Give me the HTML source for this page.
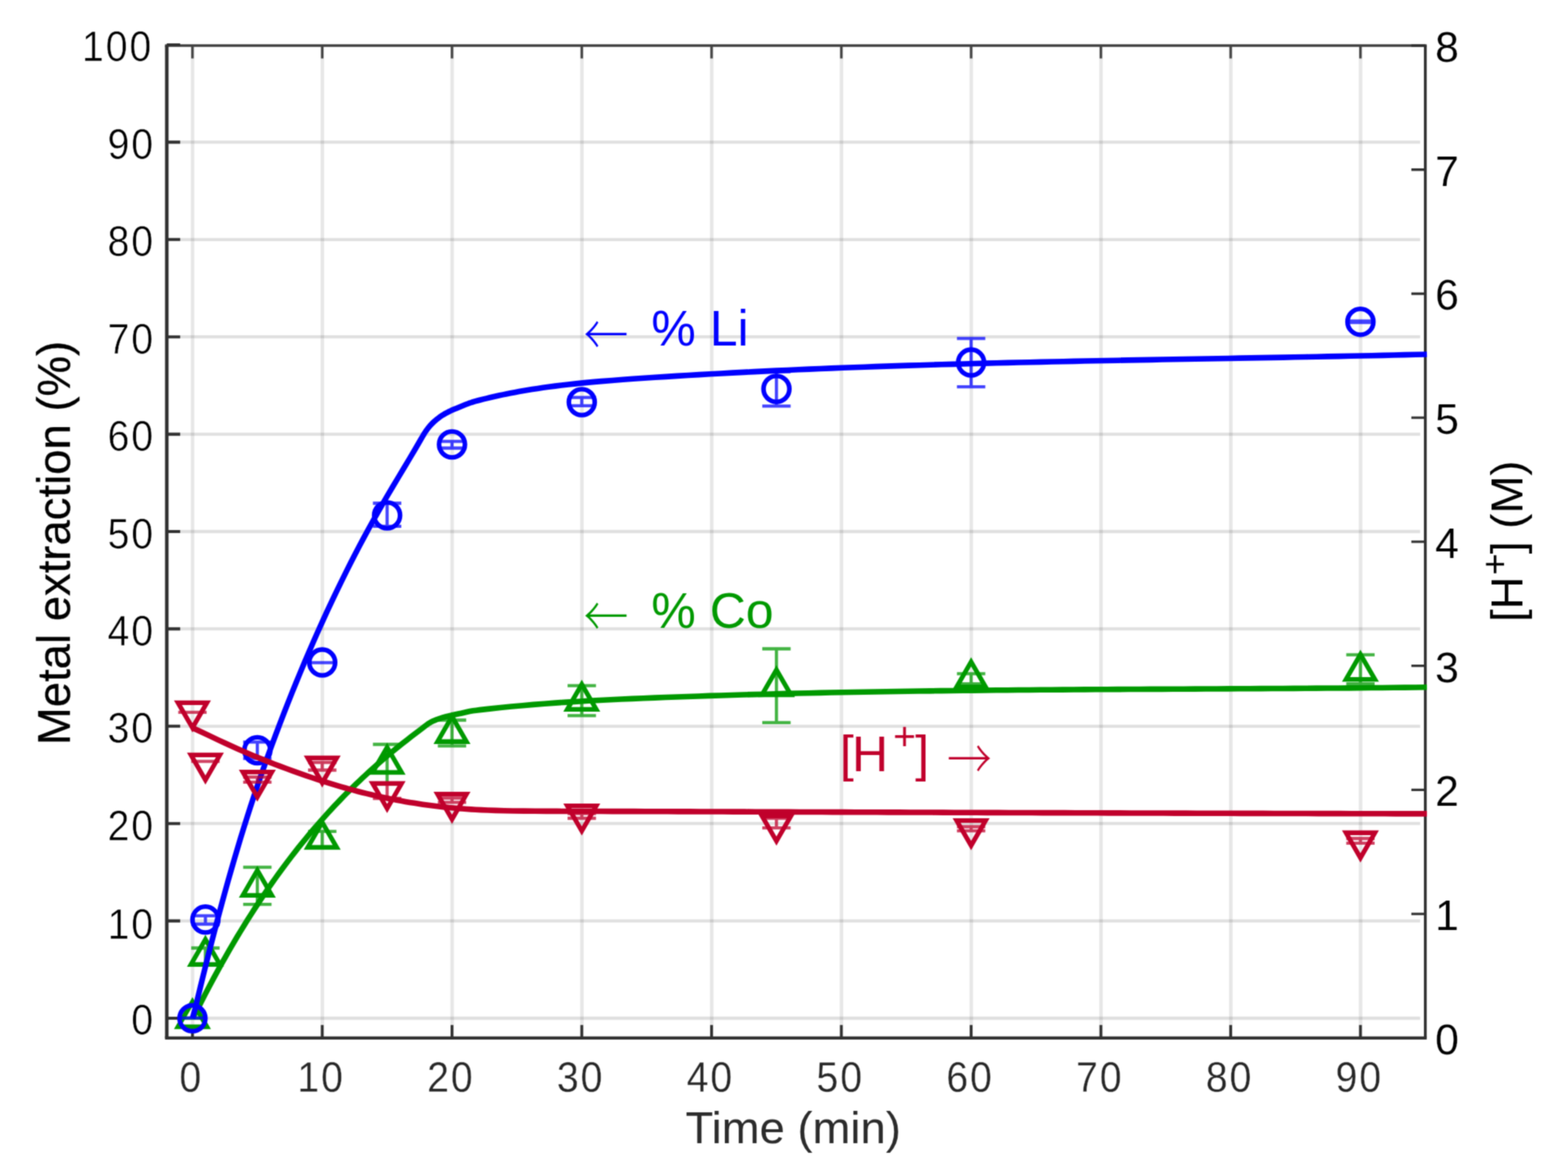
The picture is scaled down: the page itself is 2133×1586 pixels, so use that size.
<!DOCTYPE html>
<html lang="en"><head><meta charset="utf-8"><title>Metal extraction and [H+] versus time</title>
<style>html,body{margin:0;padding:0;background:#fff;overflow:hidden}svg{display:block}text{font-family:"Liberation Sans", sans-serif}.ar{font-family:"Noto Serif CJK SC", "Liberation Serif", serif}</style></head><body>
<svg xmlns="http://www.w3.org/2000/svg" width="2133" height="1586" viewBox="0 0 2133 1586">
<defs><filter id="soft" x="0" y="0" width="2133" height="1586" filterUnits="userSpaceOnUse" color-interpolation-filters="sRGB"><feConvolveMatrix order="5" kernelMatrix="0.00009 0.00198 0.00548 0.00198 0.00009 0.00198 0.04220 0.11707 0.04220 0.00198 0.00548 0.11707 0.32480 0.11707 0.00548 0.00198 0.04220 0.11707 0.04220 0.00198 0.00009 0.00198 0.00548 0.00198 0.00009" divisor="1" edgeMode="duplicate" preserveAlpha="true"/></filter></defs>
<rect width="2133" height="1586" fill="#fff"/>
<g filter="url(#soft)">
<rect x="-20" y="-20" width="2173" height="1626" fill="#fff"/>
<g stroke="#000" fill="none">
<path stroke-opacity="0.095" stroke-width="4.8" d="M262 64V1409.8M438.54 64V1409.8M615.08 64V1409.8M791.62 64V1409.8M968.16 64V1409.8M1144.7 64V1409.8M1321.24 64V1409.8M1497.78 64V1409.8M1674.32 64V1409.8M1850.86 64V1409.8"/>
<path stroke-opacity="0.12" stroke-width="4.3" d="M228.9 1385H1931.9M228.9 1252.6H1931.9M228.9 1120.2H1931.9M228.9 987.8H1931.9M228.9 855.4H1931.9M228.9 723H1931.9M228.9 590.6H1931.9M228.9 458.2H1931.9M228.9 325.8H1931.9M228.9 193.4H1931.9"/>
</g>
<g stroke="#303030" fill="none" stroke-linecap="butt">
<path stroke="#3d3d3d" stroke-width="3.3" d="M224.5 62H1940.8"/>
<path stroke-width="4.2" d="M224.5 1411.8H1940.8"/>
<path stroke-width="4.8" d="M226.9 62V1411.8"/>
<path stroke-width="3.8" d="M1938.9 62V1411.8"/>
<path stroke="#444" stroke-width="3.4" d="M261.8 62V79.6M438.34 62V79.6M614.88 62V79.6M791.42 62V79.6M967.96 62V79.6M1144.5 62V79.6M1321.04 62V79.6M1497.58 62V79.6M1674.12 62V79.6M1850.66 62V79.6"/>
<path stroke-width="3.8" d="M261.8 1411.8V1394.2M438.34 1411.8V1394.2M614.88 1411.8V1394.2M791.42 1411.8V1394.2M967.96 1411.8V1394.2M1144.5 1411.8V1394.2M1321.04 1411.8V1394.2M1497.58 1411.8V1394.2M1674.12 1411.8V1394.2M1850.66 1411.8V1394.2"/>
<path stroke-width="4.1" d="M226.9 1385H245.1M226.9 1252.6H245.1M226.9 1120.2H245.1M226.9 987.8H245.1M226.9 855.4H245.1M226.9 723H245.1M226.9 590.6H245.1M226.9 458.2H245.1M226.9 325.8H245.1M226.9 193.4H245.1M226.9 61H245.1"/>
<path stroke-width="3.4" d="M1938.9 1411.8H1919.9M1938.9 1243.08H1919.9M1938.9 1074.35H1919.9M1938.9 905.62H1919.9M1938.9 736.9H1919.9M1938.9 568.17H1919.9M1938.9 399.45H1919.9M1938.9 230.72H1919.9M1938.9 62H1919.9"/>
</g>
<g font-size="56.5" letter-spacing="2.6" stroke="#fff" stroke-width="0.7">
<g fill="#000">
<text transform="translate(210.9 1406.6) scale(0.95 1)" text-anchor="end">0</text>
<text transform="translate(210.9 1276.7) scale(0.95 1)" text-anchor="end">10</text>
<text transform="translate(210.9 1142.8) scale(0.95 1)" text-anchor="end">20</text>
<text transform="translate(210.9 1010.4) scale(0.95 1)" text-anchor="end">30</text>
<text transform="translate(210.9 878) scale(0.95 1)" text-anchor="end">40</text>
<text transform="translate(210.9 745.6) scale(0.95 1)" text-anchor="end">50</text>
<text transform="translate(210.9 613.2) scale(0.95 1)" text-anchor="end">60</text>
<text transform="translate(210.9 480.8) scale(0.95 1)" text-anchor="end">70</text>
<text transform="translate(210.9 348.4) scale(0.95 1)" text-anchor="end">80</text>
<text transform="translate(210.9 216) scale(0.95 1)" text-anchor="end">90</text>
<text transform="translate(208.4 83) scale(0.95 1)" text-anchor="end">100</text>
<text transform="translate(1952.3 1433.8) scale(1.03 1)" text-anchor="start" stroke-width="0.2">0</text>
<text transform="translate(1952.3 1265.08) scale(1.03 1)" text-anchor="start" stroke-width="0.2">1</text>
<text transform="translate(1952.3 1096.35) scale(1.03 1)" text-anchor="start" stroke-width="0.2">2</text>
<text transform="translate(1952.3 927.62) scale(1.03 1)" text-anchor="start" stroke-width="0.2">3</text>
<text transform="translate(1952.3 758.9) scale(1.03 1)" text-anchor="start" stroke-width="0.2">4</text>
<text transform="translate(1952.3 590.17) scale(1.03 1)" text-anchor="start" stroke-width="0.2">5</text>
<text transform="translate(1952.3 421.45) scale(1.03 1)" text-anchor="start" stroke-width="0.2">6</text>
<text transform="translate(1952.3 252.72) scale(1.03 1)" text-anchor="start" stroke-width="0.2">7</text>
<text transform="translate(1952.3 84) scale(1.03 1)" text-anchor="start" stroke-width="0.2">8</text>
</g>
<g fill="#262626" stroke-width="0.4">
<text transform="translate(260.2 1484.5) scale(0.95 1)" text-anchor="middle">0</text>
<text transform="translate(436.74 1484.5) scale(0.95 1)" text-anchor="middle">10</text>
<text transform="translate(613.28 1484.5) scale(0.95 1)" text-anchor="middle">20</text>
<text transform="translate(789.82 1484.5) scale(0.95 1)" text-anchor="middle">30</text>
<text transform="translate(966.36 1484.5) scale(0.95 1)" text-anchor="middle">40</text>
<text transform="translate(1142.9 1484.5) scale(0.95 1)" text-anchor="middle">50</text>
<text transform="translate(1319.44 1484.5) scale(0.95 1)" text-anchor="middle">60</text>
<text transform="translate(1495.98 1484.5) scale(0.95 1)" text-anchor="middle">70</text>
<text transform="translate(1672.52 1484.5) scale(0.95 1)" text-anchor="middle">80</text>
<text transform="translate(1849.06 1484.5) scale(0.95 1)" text-anchor="middle">90</text>
</g>
</g>
<text x="1079" y="1555" font-size="61.85" text-anchor="middle" fill="#2b2b2b">Time (min)</text>
<text transform="translate(94.6 738.6) rotate(-90) scale(1 1.03)" font-size="61.85" text-anchor="middle" fill="#000" stroke="#000" stroke-width="0.35">Metal extraction (%)</text>
<text transform="translate(2071.3 846.0) rotate(-90)" font-size="61.85" text-anchor="start" fill="#000">[H<tspan dy="-21.5" dx="2" font-size="50.72">+</tspan><tspan dy="21.5" dx="-1">] (M)</tspan></text>
<g stroke="#009900" fill="none" stroke-linejoin="miter" stroke-miterlimit="10">
<path stroke-width="4.3" stroke-opacity="0.74" d="M242.5 1385H281.1M279.45 1289.5V1311.5M260.15 1289.5H298.75M260.15 1311.5H298.75M350.07 1179.65V1230.2M330.77 1179.65H369.37M330.77 1230.2H369.37M438.34 1130.8V1152M419.04 1130.8H457.64M419.04 1152H457.64M526.61 1012.5V1066M507.31 1012.5H545.91M507.31 1066H545.91M614.88 979.5V1014.6M595.58 979.5H634.18M595.58 1014.6H634.18M791.42 932.6V973.3M772.12 932.6H810.72M772.12 973.3H810.72M1056.23 882.5V982.8M1036.93 882.5H1075.53M1036.93 982.8H1075.53M1321.04 916.4V930.2M1301.74 916.4H1340.34M1301.74 930.2H1340.34M1850.66 890.6V930.2M1831.36 890.6H1869.96M1831.36 930.2H1869.96"/>
<path stroke-width="6.3" d="M261.8 1362.57L281.49 1396.67L242.11 1396.67ZM279.45 1277.77L299.14 1311.87L259.77 1311.87ZM350.07 1183.77L369.76 1217.87L330.38 1217.87ZM438.34 1118.47L458.03 1152.57L418.65 1152.57ZM526.61 1016.47L546.3 1050.57L506.92 1050.57ZM614.88 974.67L634.57 1008.77L595.19 1008.77ZM791.42 930.87L811.11 964.97L771.73 964.97ZM1056.23 911.07L1075.92 945.17L1036.54 945.17ZM1321.04 900.27L1340.73 934.37L1301.35 934.37ZM1850.66 890.07L1870.35 924.17L1830.97 924.17Z"/>
<path stroke-width="7.6" stroke-linejoin="round" d="M261.8 1385L268.58 1372.99L274.01 1362.29L279.5 1351.62L285.08 1340.99L290.73 1330.4L296.47 1319.86L301.56 1310.67L306.71 1301.52L311.93 1292.41L317.22 1283.34L322.58 1274.31L327.23 1266.6L331.93 1258.93L336.69 1251.28L341.5 1243.68L346.37 1236.11L351.3 1228.57L356.28 1221.08L361.32 1213.62L365.57 1207.44L369.86 1201.29L374.19 1195.16L378.57 1189.07L382.99 1183.01L387.45 1176.98L391.96 1170.99L396.51 1165.02L401.11 1159.1L405.75 1153.21L410.44 1147.35L415.18 1141.53L419 1136.91L422.85 1132.31L426.73 1127.73L430.65 1123.18L434.59 1118.66L438.56 1114.16L442.56 1109.69L446.6 1105.24L450.66 1100.83L454.76 1096.44L458.88 1092.08L463.04 1087.75L467.22 1083.45L471.44 1079.18L475.68 1074.94L479.96 1070.73L484.26 1066.55L488.6 1062.4L492.96 1058.28L497.35 1054.19L501.77 1050.13L506.22 1046.11L510.7 1042.11L515.21 1038.15L519.74 1034.22L524.3 1030.32L528.89 1026.45L533.5 1022.61L538.14 1018.81L542.81 1015.03L547.49 1011.29L553.39 1006.65L559.32 1002.05L571.26 992.97L574.82 990.22L578.36 987.46L582 984.83L585.8 982.47L589.8 980.44L593.94 978.73L598.19 977.27L602.5 975.96L606.84 974.78L611.2 973.7L615.59 972.7L618.52 972.06L624.39 970.82L627.32 970.18L634.63 968.5L639.03 967.56L643.45 966.79L647.91 966.18L652.37 965.63L665.79 964.1L680.71 962.51L695.64 961.03L710.57 959.66L725.52 958.39L740.48 957.21L755.44 956.12L770.41 955.11L785.38 954.18L800.36 953.31L815.34 952.5L830.33 951.77L845.31 951.07L860.3 950.38L875.29 949.76L890.28 949.14L905.27 948.55L920.26 947.99L935.25 947.44L950.25 946.93L965.24 946.42L980.24 945.93L995.23 945.47L1010.23 945.02L1025.22 944.6L1040.22 944.18L1055.22 943.78L1070.21 943.41L1085.21 943.05L1100.21 942.7L1115.21 942.38L1130.21 942.06L1145.21 941.76L1160.21 941.47L1175.21 941.2L1190.21 940.94L1205.21 940.69L1220.21 940.46L1235.21 940.24L1250.21 940.02L1265.21 939.83L1280.21 939.63L1295.21 939.46L1310.22 939.29L1325.22 939.12L1340.22 938.97L1355.22 938.82L1370.22 938.69L1385.22 938.56L1400.23 938.43L1415.23 938.32L1430.23 938.21L1445.23 938.1L1460.23 938.01L1475.24 937.91L1490.24 937.82L1505.24 937.73L1520.24 937.65L1535.24 937.57L1550.25 937.49L1565.25 937.41L1580.25 937.33L1595.25 937.26L1610.26 937.18L1625.26 937.11L1640.26 937.04L1655.26 936.96L1670.26 936.88L1685.27 936.81L1700.27 936.73L1715.27 936.64L1730.27 936.56L1745.28 936.47L1760.28 936.37L1775.28 936.28L1790.28 936.17L1805.28 936.06L1820.29 935.95L1835.29 935.83L1850.29 935.7L1865.29 935.57L1880.29 935.43L1895.3 935.28L1910.3 935.12L1925.3 934.95L1940.3 934.78L1941.1 934.77"/>
</g>
<g stroke="#0000ff" fill="none" stroke-linejoin="miter" stroke-miterlimit="10">
<path stroke-width="4.3" stroke-opacity="0.74" d="M242.5 1384.7H281.1M279.45 1245.7V1257M260.15 1245.7H298.75M260.15 1257H298.75M350.07 1009.4V1031.6M330.77 1009.4H369.37M330.77 1031.6H369.37M419.04 901.4H457.64M526.61 684.5V715.8M507.31 684.5H545.91M507.31 715.8H545.91M614.88 600.4V609.5M595.58 600.4H634.18M595.58 609.5H634.18M791.42 540.6V551.8M772.12 540.6H810.72M772.12 551.8H810.72M1056.23 505.7V552.3M1036.93 505.7H1075.53M1036.93 552.3H1075.53M1321.04 460.3V526.15M1301.74 460.3H1340.34M1301.74 526.15H1340.34M1850.66 436.7V438.7M1831.36 436.7H1869.96M1831.36 438.7H1869.96"/>
<g stroke-width="6.3">
<circle cx="261.8" cy="1385.1" r="17.6"/>
<circle cx="279.45" cy="1250.8" r="17.6"/>
<circle cx="350.07" cy="1020.5" r="17.6"/>
<circle cx="438.34" cy="901.1" r="17.6"/>
<circle cx="526.61" cy="701" r="17.6"/>
<circle cx="614.88" cy="604.5" r="17.6"/>
<circle cx="791.42" cy="547" r="17.6"/>
<circle cx="1056.23" cy="529" r="17.6"/>
<circle cx="1321.04" cy="493.1" r="17.6"/>
<circle cx="1850.66" cy="437.7" r="17.6"/>
</g>
<path stroke-width="7.6" stroke-linejoin="round" d="M261.8 1385L265.38 1372.42L268.88 1357.83L272.42 1343.25L276 1328.67L279.62 1314.11L283.28 1299.55L286.98 1285.01L290.74 1270.48L294.54 1255.96L298.39 1241.46L302.31 1226.97L306.28 1212.5L310.31 1198.05L314.42 1183.61L318.59 1169.2L322.84 1154.81L327.16 1140.44L331.57 1126.09L336.07 1111.77L340.66 1097.49L345.35 1083.23L350.13 1069.01L355 1054.81L359.97 1040.65L365.03 1026.53L370.18 1012.43L375.42 998.37L380.74 984.33L386.13 970.33L391.61 956.36L397.16 942.42L402.8 928.51L408.52 914.63L414.32 900.8L420.21 886.99L426.19 873.23L432.27 859.51L438.43 845.83L444.69 832.19L451.05 818.59L457.5 805.05L464.06 791.55L470.72 778.1L476.8 766.04L482.98 754.03L489.24 742.06L495.59 730.14L502.03 718.27L507.84 707.77L513.72 697.3L519.68 686.88L526.47 675.2L534.11 662.29L541.81 649.41L549.54 636.54L557.24 623.66L564.87 610.74L572.41 597.76L574.67 593.87L576.98 590.01L579.43 586.25L582.08 582.62L584.94 579.15L588.01 575.88L591.28 572.8L594.71 569.9L598.28 567.17L602.01 564.67L605.88 562.38L609.86 560.29L613.91 558.35L618.03 556.54L620.8 555.39L633.33 550.33L637.52 548.71L641.77 547.25L646.08 545.96L650.42 544.77L653.32 544.01L657.69 542.9L662.06 541.82L666.43 540.77L670.82 539.75L675.21 538.76L679.61 537.79L684.01 536.86L688.42 535.95L694.31 534.77L700.2 533.65L706.11 532.57L712.02 531.53L717.94 530.53L723.86 529.57L731.28 528.43L738.7 527.34L746.13 526.3L755.06 525.13L764 524.02L772.94 522.98L783.38 521.85L795.33 520.64L808.78 519.38L817.75 518.61L832.71 517.44L847.67 516.3L861.14 515.31L876.11 514.3L891.09 513.3L906.06 512.34L921.04 511.41L936.02 510.5L951 509.63L965.98 508.77L980.97 507.94L995.95 507.14L1010.94 506.35L1025.93 505.6L1040.91 504.86L1055.9 504.14L1070.9 503.46L1085.89 502.79L1100.88 502.14L1115.87 501.52L1130.87 500.9L1145.86 500.32L1160.86 499.74L1175.86 499.19L1190.85 498.66L1205.85 498.13L1220.85 497.64L1235.85 497.15L1250.85 496.68L1265.85 496.23L1280.85 495.78L1295.85 495.35L1310.85 494.94L1325.85 494.53L1340.85 494.15L1355.86 493.76L1370.86 493.4L1385.86 493.04L1400.86 492.69L1415.87 492.35L1430.87 492.02L1445.87 491.7L1460.88 491.38L1475.88 491.07L1490.88 490.77L1505.89 490.47L1520.89 490.18L1535.9 489.9L1550.9 489.61L1565.9 489.34L1580.91 489.06L1595.91 488.79L1610.92 488.52L1625.92 488.25L1640.93 487.98L1655.93 487.71L1670.93 487.44L1685.94 487.17L1700.94 486.9L1715.95 486.63L1730.95 486.35L1745.96 486.08L1760.96 485.79L1775.96 485.51L1790.97 485.22L1805.97 484.92L1820.98 484.62L1835.98 484.31L1850.98 484L1865.99 483.68L1880.99 483.34L1895.99 483.01L1911 482.66L1926 482.3L1941.1 481.94"/>
</g>
<g stroke="#c0002b" fill="none" stroke-linejoin="miter" stroke-miterlimit="10">
<path stroke-width="4.3" stroke-opacity="0.74" d="M242.5 968.9H281.1M260.15 1035.7H298.75M350.07 1057V1063.9M330.77 1057H369.37M330.77 1063.9H369.37M438.34 1037V1047.5M419.04 1037H457.64M419.04 1047.5H457.64M526.61 1066V1086M507.31 1066H545.91M507.31 1086H545.91M614.88 1085.7V1091.4M595.58 1085.7H634.18M595.58 1091.4H634.18M791.42 1106.7V1113M772.12 1106.7H810.72M772.12 1113H810.72M1056.23 1113V1126.2M1036.93 1113H1075.53M1036.93 1126.2H1075.53M1321.04 1124.5V1130.2M1301.74 1124.5H1340.34M1301.74 1130.2H1340.34M1850.66 1140.5V1146.8M1831.36 1140.5H1869.96M1831.36 1146.8H1869.96"/>
<path stroke-width="6.3" d="M261.8 989.93L281.49 955.83L242.11 955.83ZM279.45 1061.03L299.14 1026.93L259.77 1026.93ZM350.07 1084.13L369.76 1050.03L330.38 1050.03ZM438.34 1064.93L458.03 1030.83L418.65 1030.83ZM526.61 1099.73L546.3 1065.63L506.92 1065.63ZM614.88 1114.33L634.57 1080.23L595.19 1080.23ZM791.42 1130.23L811.11 1096.13L771.73 1096.13ZM1056.23 1144.03L1075.92 1109.93L1036.54 1109.93ZM1321.04 1150.13L1340.73 1116.03L1301.35 1116.03ZM1850.66 1166.83L1870.35 1132.73L1830.97 1132.73Z"/>
<path stroke-width="7.6" stroke-linejoin="round" d="M261.8 989.96L269.97 993.74L283.53 1000.17L297.09 1006.6L306.61 1011.04L314.79 1014.79L323.01 1018.48L329.88 1021.5L336.76 1024.47L343.67 1027.4L350.6 1030.28L357.55 1033.11L364.52 1035.89L372.9 1039.17L381.31 1042.38L389.75 1045.53L398.21 1048.61L406.69 1051.64L416.61 1055.09L425.13 1057.99L432.25 1060.35L439.39 1062.67L446.55 1064.93L452.28 1066.7L458.03 1068.43L463.79 1070.12L469.56 1071.77L475.34 1073.38L481.13 1074.95L486.94 1076.48L492.75 1077.96L498.58 1079.4L504.42 1080.79L510.27 1082.14L516.13 1083.45L521.99 1084.72L527.87 1085.94L533.76 1087.12L539.65 1088.25L545.55 1089.34L551.46 1090.39L557.38 1091.4L563.3 1092.36L569.23 1093.28L575.17 1094.16L581.12 1095L587.07 1095.79L593.02 1096.54L598.98 1097.24L604.95 1097.9L610.92 1098.51L616.9 1099.08L622.87 1099.6L628.86 1100.08L634.84 1100.51L640.83 1100.9L646.83 1101.24L654.32 1101.62L663.32 1102.01L673.81 1102.37L685.81 1102.69L697.82 1102.93L712.82 1103.1L727.83 1103.24L742.83 1103.37L757.84 1103.42L772.84 1103.46L787.85 1103.5L802.85 1103.53L817.86 1103.56L832.87 1103.59L847.87 1103.63L862.88 1103.67L877.88 1103.71L892.89 1103.76L907.9 1103.8L922.9 1103.85L937.91 1103.9L952.91 1103.95L967.92 1104L982.92 1104.05L997.93 1104.1L1012.94 1104.16L1027.94 1104.21L1042.95 1104.26L1057.95 1104.32L1072.96 1104.37L1087.97 1104.43L1102.97 1104.48L1117.98 1104.54L1132.98 1104.59L1147.99 1104.65L1163 1104.7L1178 1104.75L1193.01 1104.81L1208.01 1104.86L1223.02 1104.92L1238.02 1104.97L1253.03 1105.02L1268.04 1105.07L1283.04 1105.13L1298.05 1105.18L1313.05 1105.23L1328.06 1105.28L1343.07 1105.33L1358.07 1105.38L1373.08 1105.43L1388.08 1105.48L1403.09 1105.53L1418.09 1105.58L1433.1 1105.62L1448.11 1105.67L1463.11 1105.72L1478.12 1105.76L1493.12 1105.81L1508.13 1105.85L1523.14 1105.9L1538.14 1105.94L1553.15 1105.98L1568.15 1106.03L1583.16 1106.07L1598.16 1106.11L1613.17 1106.15L1628.18 1106.19L1643.18 1106.23L1658.19 1106.27L1673.19 1106.31L1688.2 1106.35L1703.21 1106.39L1718.21 1106.42L1733.22 1106.46L1748.22 1106.5L1763.23 1106.53L1778.24 1106.57L1793.24 1106.6L1808.25 1106.64L1823.25 1106.67L1838.26 1106.71L1853.27 1106.74L1868.27 1106.77L1883.28 1106.8L1898.28 1106.84L1913.29 1106.87L1928.29 1106.9L1941.1 1106.92"/>
</g>
<g font-size="68">
<text class="ar" transform="translate(794.1 482.15) scale(0.98 1.18)" font-size="62" fill="#0000ff">←</text>
<text x="886.1" y="470.2" fill="#0000ff">% Li</text>
<text class="ar" transform="translate(794.1 865.35) scale(0.98 1.18)" font-size="62" fill="#009900">←</text>
<text x="886.1" y="854.3" fill="#009900">% Co</text>
<text x="1142.6" y="1048.6" fill="#c0002b">[<tspan dx="-2.6">H</tspan><tspan dy="-28.5" dx="7" font-size="53">+</tspan><tspan dy="28.5" dx="-1">]</tspan></text>
<text class="ar" transform="translate(1288.2 1058.75) scale(0.98 1.18)" font-size="62" fill="#c0002b">→</text>
</g>
</g>
</svg></body></html>
